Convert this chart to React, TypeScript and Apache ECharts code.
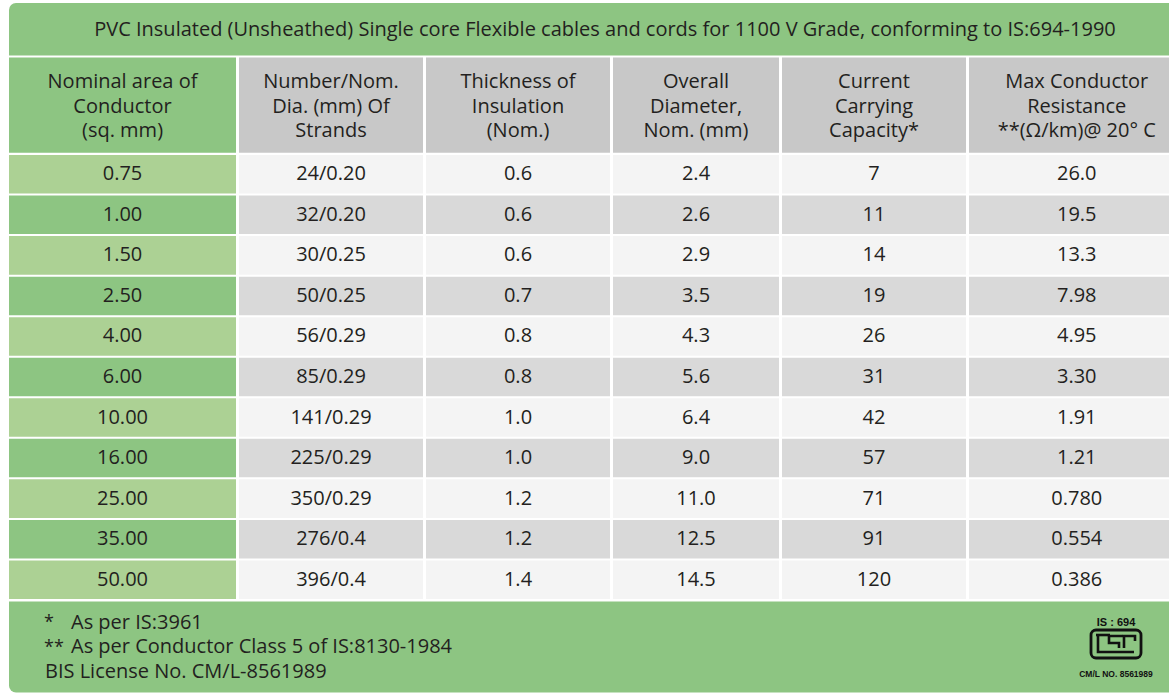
import React, { useEffect, useRef } from "react";
import * as echarts from "echarts";

// ---------- data ----------
const title =
  "PVC Insulated (Unsheathed) Single core Flexible cables and cords for 1100 V Grade, conforming to IS:694-1990";

const headers = [
  "Nominal area of\nConductor\n(sq. mm)",
  "Number/Nom.\nDia. (mm) Of\nStrands",
  "Thickness of\nInsulation\n(Nom.)",
  "Overall\nDiameter,\nNom. (mm)",
  "Current\nCarrying\nCapacity*",
  "Max Conductor\nResistance\n**(Ω/km)@ 20° C",
];

const nominalArea = ["0.75", "1.00", "1.50", "2.50", "4.00", "6.00", "10.00", "16.00", "25.00", "35.00", "50.00"];
const strands = ["24/0.20", "32/0.20", "30/0.25", "50/0.25", "56/0.29", "85/0.29", "141/0.29", "225/0.29", "350/0.29", "276/0.4", "396/0.4"];
const insulation = ["0.6", "0.6", "0.6", "0.7", "0.8", "0.8", "1.0", "1.0", "1.2", "1.2", "1.4"];
const overallDiameter = ["2.4", "2.6", "2.9", "3.5", "4.3", "5.6", "6.4", "9.0", "11.0", "12.5", "14.5"];
const currentCapacity = ["7", "11", "14", "19", "26", "31", "42", "57", "71", "91", "120"];
const maxResistance = ["26.0", "19.5", "13.3", "7.98", "4.95", "3.30", "1.91", "1.21", "0.780", "0.554", "0.386"];

const footMarks = ["*", "**", ""];
const footTexts = ["As per IS:3961", "As per Conductor Class 5 of IS:8130-1984", "BIS License No. CM/L-8561989"];

const logoTop = "IS : 694";
const logoBottom = "CM/L NO. 8561989";

const columns = [nominalArea, strands, insulation, overallDiameter, currentCapacity, maxResistance];

// ---------- layout / style ----------
const W = 1169;
const H = 695;
const COL_EDGES = [9, 237.5, 424.5, 611.5, 780.5, 967.5, 1186];
const FONT = "'Open Sans', 'Noto Sans', sans-serif";
const FS = 20;
const TEXT = "#231f20";
const GREEN = "#8dc582";
const LIGHT_GREEN = "#acd194";
const HEAD_GRAY = "#c8c8c8";
const ROW_LIGHT = "#f4f4f4";
const ROW_DARK = "#d9d9d9";

export default function App() {
  const ref = useRef<HTMLDivElement>(null);

  useEffect(() => {
    if (!ref.current) return;
    const chart = echarts.init(ref.current, null, { renderer: "svg" });

    const dataCells: number[][] = [];
    nominalArea.forEach((_, r) => {
      columns.forEach((_c, c) => dataCells.push([c, r]));
    });
    const headCells = headers.map((_, c) => [c, 0]);

    const cellRender = (isHeader: boolean) => (params: any, api: any) => {
      const c = api.value(0);
      const r = api.value(1);
      const left = api.coord([COL_EDGES[c], r]);
      const right = api.coord([COL_EDGES[c + 1], r]);
      const h = api.size([0, 1])[1];
      const x0 = c === 0 ? left[0] : left[0] + 1.5;
      const x1 = right[0] - 1.5;
      const inset = isHeader ? 0 : 1;
      const y0 = left[1] - h / 2 + inset;
      const y1 = left[1] + h / 2 - inset;
      let fill: string;
      if (isHeader) fill = c === 0 ? GREEN : HEAD_GRAY;
      else if (c === 0) fill = r % 2 === 0 ? LIGHT_GREEN : GREEN;
      else fill = r % 2 === 0 ? ROW_LIGHT : ROW_DARK;
      const text = isHeader ? headers[c] : columns[c][r];
      return {
        type: "group",
        children: [
          { type: "rect", shape: { x: x0, y: y0, width: x1 - x0, height: y1 - y0 }, style: { fill } },
          {
            type: "text",
            x: (x0 + x1) / 2,
            y: left[1] - (isHeader ? 0 : 1.5),
            style: {
              text,
              fill: TEXT,
              fontFamily: FONT,
              fontSize: FS,
              lineHeight: 24.5,
              align: "center",
              verticalAlign: "middle",
            },
          },
        ],
      };
    };

    const isiStroke = { stroke: "#111", lineWidth: 2.6, fill: "none", lineJoin: "miter" };

    chart.setOption({
      animation: false,
      backgroundColor: "#ffffff",
      grid: [
        { left: 0, right: 0, top: 57.5, height: 95.2 },
        { left: 0, right: 0, top: 154, height: 446 },
      ],
      xAxis: [
        { type: "value", gridIndex: 0, min: 0, max: W, show: false },
        { type: "value", gridIndex: 1, min: 0, max: W, show: false },
      ],
      yAxis: [
        { type: "category", gridIndex: 0, data: ["header"], show: false },
        { type: "category", gridIndex: 1, data: nominalArea, inverse: true, show: false },
      ],
      series: [
        {
          type: "custom",
          xAxisIndex: 0,
          yAxisIndex: 0,
          data: headCells,
          renderItem: cellRender(true),
          clip: false,
        },
        {
          type: "custom",
          xAxisIndex: 1,
          yAxisIndex: 1,
          data: dataCells,
          renderItem: cellRender(false),
          clip: false,
        },
      ],
      graphic: [
        {
          type: "rect",
          shape: { x: 9, y: 3, width: 1180, height: 52.5, r: [7, 0, 0, 0] },
          style: { fill: GREEN },
        },
        {
          type: "text",
          x: 605,
          y: 28.5,
          style: {
            text: title,
            fill: TEXT,
            fontFamily: FONT,
            fontSize: FS,
            align: "center",
            verticalAlign: "middle",
          },
        },
        {
          type: "rect",
          shape: { x: 9, y: 601.5, width: 1180, height: 91, r: [0, 0, 0, 7] },
          style: { fill: GREEN },
        },
        ...footTexts.map((t, i) => ({
          type: "group",
          children: [
            {
              type: "text",
              x: 44,
              y: 621 + i * 24.5,
              style: { text: footMarks[i], fill: TEXT, fontFamily: FONT, fontSize: 18, verticalAlign: "middle" },
            },
            {
              type: "text",
              x: i === 2 ? 45 : 71,
              y: 621 + i * 24.5,
              style: { text: t, fill: TEXT, fontFamily: FONT, fontSize: FS, verticalAlign: "middle" },
            },
          ],
        })),
        {
          type: "text",
          x: 1116,
          y: 622,
          style: {
            text: logoTop,
            fill: "#111",
            font: "bold 11px 'Liberation Sans', Arial, sans-serif",
            align: "center",
            verticalAlign: "middle",
          },
        },
        {
          type: "rect",
          shape: { x: 1091, y: 630, width: 50, height: 28, r: 5 },
          style: { fill: "none", stroke: "#111", lineWidth: 2.8 },
        },
        { type: "polyline", shape: { points: [[1098, 635], [1098, 652], [1134, 652]] }, style: isiStroke },
        { type: "polyline", shape: { points: [[1096, 635], [1110, 635]] }, style: isiStroke },
        {
          type: "polyline",
          shape: { points: [[1123, 636], [1109, 636], [1109, 643], [1119, 643], [1119, 648]] },
          style: isiStroke,
        },
        { type: "polyline", shape: { points: [[1124, 648], [1124, 636], [1135, 636], [1135, 641]] }, style: isiStroke },
        {
          type: "text",
          x: 1116,
          y: 674,
          style: {
            text: logoBottom,
            fill: "#111",
            font: "bold 8.5px 'Liberation Sans', Arial, sans-serif",
            align: "center",
            verticalAlign: "middle",
          },
        },
      ],
    });

    return () => chart.dispose();
  }, []);

  return (
    <div
      ref={ref}
      style={{ position: "absolute", left: 0, top: 0, width: W, height: H }}
    />
  );
}
